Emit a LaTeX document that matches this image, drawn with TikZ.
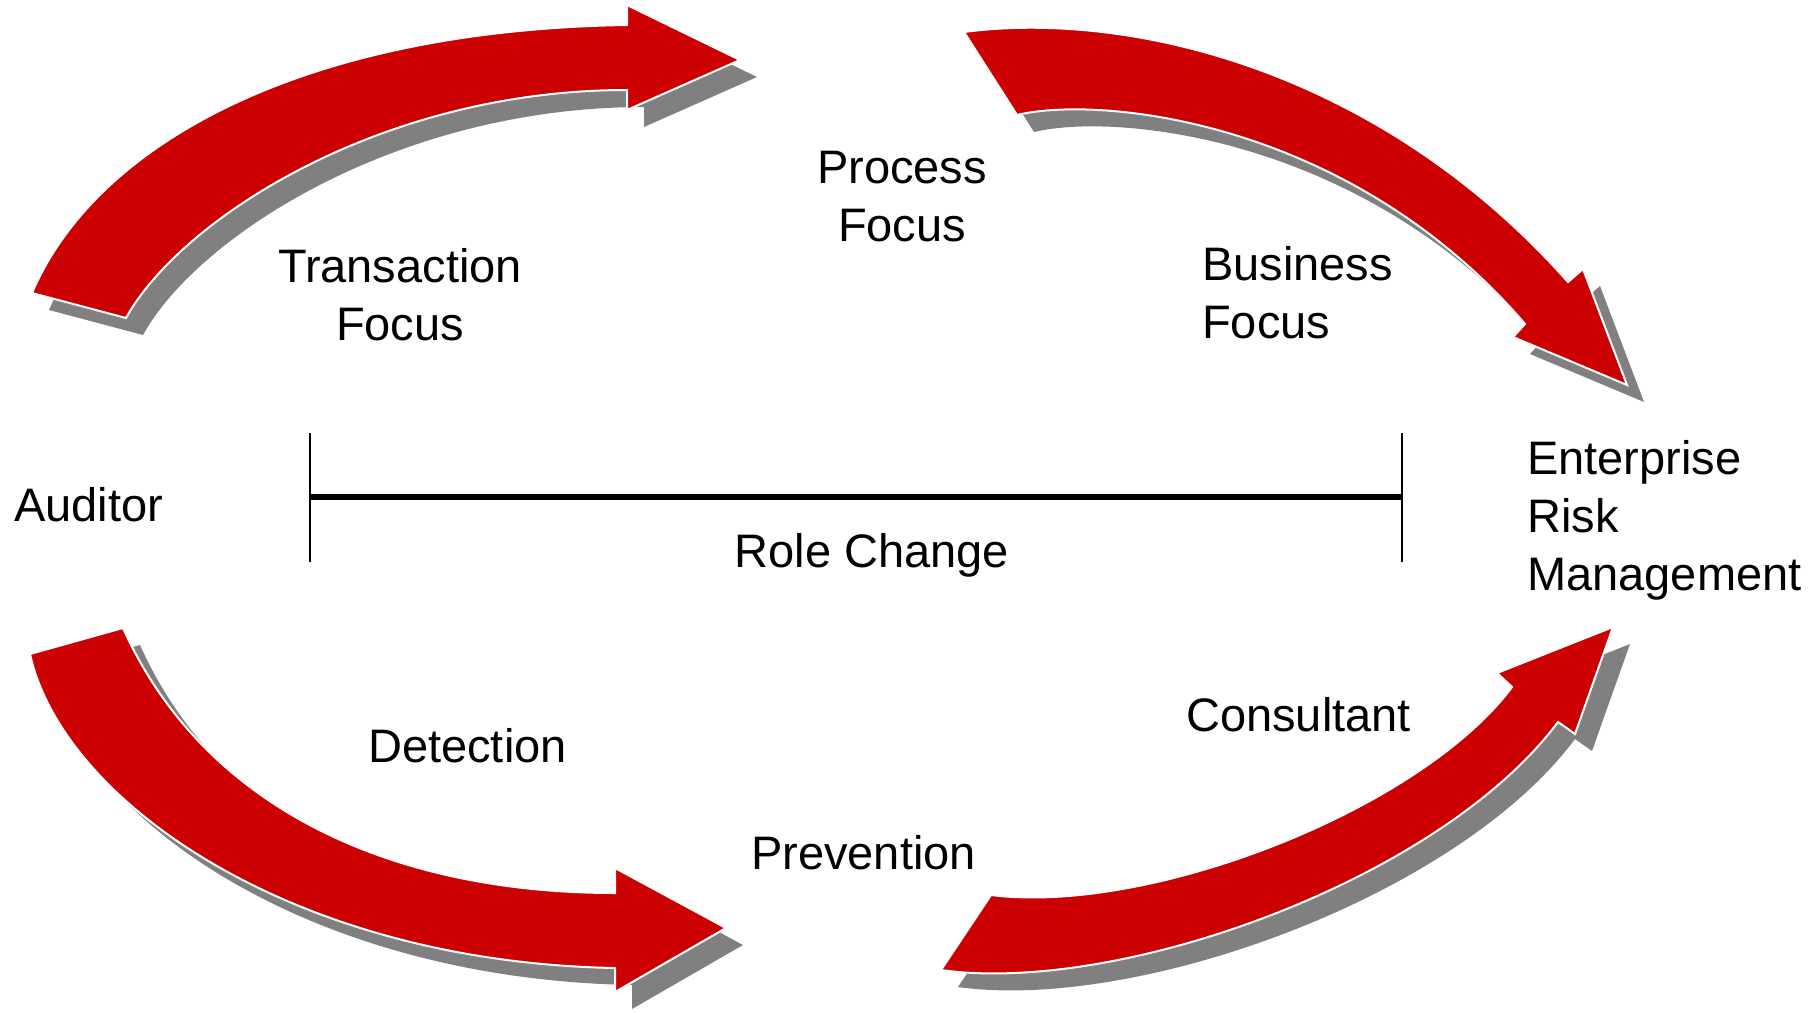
\documentclass[tikz,border=0pt]{standalone}
\usepackage{fontspec}
\setmainfont{Liberation Sans}
\definecolor{arrowred}{HTML}{CC0000}
\definecolor{shadowgray}{HTML}{808080}
\tikzset{
  redarrow/.style={fill=arrowred, draw=white, line width=2pt, line join=miter},
  shadowarrow/.style={fill=shadowgray, draw=none, shift={(17,17)}},
  lbl/.style={inner sep=0pt, font=\fontsize{47}{58}\selectfont},
}
\begin{document}
\begin{tikzpicture}[x=1pt,y=-1pt]
\useasboundingbox (0,0) rectangle (1814,1012);
% arrow paths defined as macros for shadow + body
\def\arrowA{(32,293) .. controls (95,145) and (300,30) .. (627,25) -- (627,5) -- (740,60) -- (627,110) -- (627,90) .. controls (380,90) and (180,220) .. (126,318) -- cycle}
\def\arrowB{(964,32) .. controls (1130,10) and (1380,70) .. (1568,282) -- (1583,269) -- (1627,385) -- (1513,337) -- (1525,324) .. controls (1350,120) and (1100,95) .. (1017,115) -- cycle}
\def\arrowC{(30,654) .. controls (62,800) and (290,962) .. (615,968) -- (615,992) -- (726,928) -- (615,868) -- (615,893) .. controls (380,893) and (200,800) .. (123,628) -- cycle}
\def\arrowD{(941,970) .. controls (1120,995) and (1440,880) .. (1558,722) -- (1575,734) -- (1613,627) -- (1497,673) -- (1512,687) .. controls (1420,810) and (1150,915) .. (991,895) -- cycle}
% shadows
\fill[shadowarrow] \arrowA;
\fill[shadowarrow] \arrowB;
\fill[shadowarrow] \arrowC;
\fill[shadowarrow] \arrowD;
% red arrows
\filldraw[redarrow] \arrowA;
\filldraw[redarrow] \arrowB;
\filldraw[redarrow] \arrowC;
\filldraw[redarrow] \arrowD;
% role change bar
\coordinate (L) at (310,497);
\coordinate (R) at (1402,497);
\coordinate (Lt) at (310,433);
\coordinate (Lb) at (310,562);
\coordinate (Rt) at (1402,433);
\coordinate (Rb) at (1402,562);
\draw[line width=5.5pt] (L) -- (R);
\draw[line width=2pt] (Lt) -- (Lb);
\draw[line width=2pt] (Rt) -- (Rb);
% labels
\node[lbl, anchor=north, align=center] (trans) at (400,248) {Transaction\\Focus};
\node[lbl, anchor=north, align=center] (proc) at (902,151) {Process\\Focus};
\node[lbl, anchor=north west, align=left] (bus) at (1202,246) {Business\\Focus};
\node[lbl, anchor=base west] (aud) at (14,521) {Auditor};
\node[lbl, anchor=north west, align=left] (erm) at (1527,440) {Enterprise\\Risk\\Management};
\node[lbl, anchor=base] (role) at (872,567) {Role Change};
\node[lbl, anchor=base west] (det) at (368,762) {Detection};
\node[lbl, anchor=base west] (prev) at (751,869) {Prevention};
\node[lbl, anchor=base west] (cons) at (1186,731) {Consultant};
\end{tikzpicture}
\end{document}
